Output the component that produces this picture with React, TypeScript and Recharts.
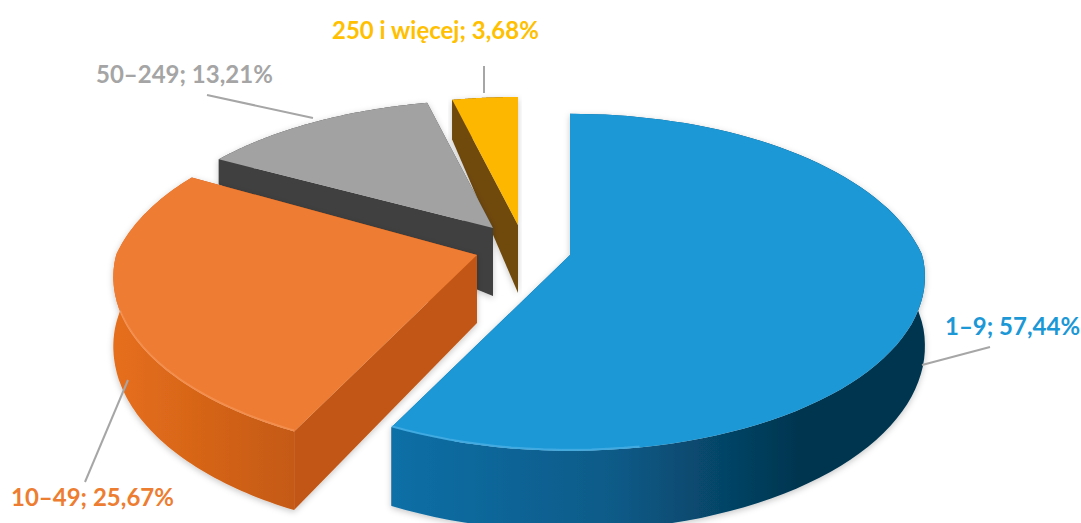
// Firmy wg liczby pracujących: exploded 3D-style pie, drawn through a custom Pie shape
import { PieChart, Pie } from 'recharts';

// Draw order is back to front, so the slices run counter-clockwise from the top
const categories = ['250 i więcej', '50–249', '10–49', '1–9'];
const shares = [3.68, 13.21, 25.67, 57.44];
const data = categories.map((name, i) => ({ name, value: shares[i] }));

// ── Look of each slice ───────────────────────────────────────────────────────
const LABEL_COLORS = ['#ffc000', '#a5a5a5', '#ed7d31', '#1c98d6'];
const TOP_COLORS = ['#fdb700', '#a2a2a2', '#ee7b32', '#1c98d6'];
const CUT_COLORS = ['#6f4a0f', '#404040', '#c25714', '#0b5f90'];
const WALL_COLORS = ['#6f4a0f', '#404040', 'url(#wallOrange)', 'url(#wallBlue)'];
const RIMS = ['none', 'none', '#f79a5e', '#58b6e8'];
const RIM_MAX_X = [0, 0, 300, 640];
const EXPLODE = [
  { dx: -52, dy: -30, back: 0.92, minDepth: 40, scale: 1 },
  { dx: -77, dy: -27, back: 0.92, minDepth: 25, scale: 1 },
  { dx: -93, dy: 0, back: 1, minDepth: 25, scale: 1.04 },
  { dx: 0, dy: 0, back: 1, minDepth: 25, scale: 1.015 },
];
const LABELS = [
  { x: 332, y: 39, line: [484, 66, 484, 93] },
  { x: 96, y: 83, line: [207, 95, 313, 118] },
  { x: 11, y: 506, line: [85, 482, 128, 380] },
  { x: 945, y: 335, line: [922, 365, 990, 347] },
];

const PERSPECTIVE_BACK = 0.2147;
const PERSPECTIVE_FRONT = 0.124;
const SQUASH = 169 / 347;

function project(a: number, rx: number, sy: number) {
  const u = Math.cos(a);
  const v = -Math.sin(a);
  const w = 1 - (v < 0 ? PERSPECTIVE_BACK : PERSPECTIVE_FRONT) * v;
  const ky = v < 0 ? sy : 1;
  return { x: (rx * u) / w, y: (rx * SQUASH * v * ky) / w, v };
}

function wallDepth(v: number, minDepth: number) {
  return v >= 0 ? 68 + 12 * v : Math.max(minDepth, 68 + 88 * v);
}

const toPath = (pts: { x: number; y: number }[]) =>
  'M' + pts.map((p) => `${p.x.toFixed(1)},${p.y.toFixed(1)}`).join('L') + 'Z';

// ── Slice: cut faces, wall and top face from the angles the Pie computed ─────
function Slice3D(props: any) {
  const { cx, cy, outerRadius, startAngle, endAngle, index } = props;
  const ex = EXPLODE[index];
  const ax = cx + ex.dx;
  const ay = cy + ex.dy;
  const a0 = (Math.min(startAngle, endAngle) * Math.PI) / 180;
  const a1 = (Math.max(startAngle, endAngle) * Math.PI) / 180;

  const arc: { x: number; y: number; v: number }[] = [];
  const steps = 90;
  for (let i = 0; i <= steps; i++) {
    const p = project(a0 + ((a1 - a0) * i) / steps, outerRadius * ex.scale, ex.back);
    arc.push({ x: ax + p.x, y: ay + p.y, v: p.v });
  }
  const down = (p: { x: number; y: number; v: number }) => ({
    x: p.x,
    y: p.y + wallDepth(p.v, ex.minDepth),
  });

  const apex = { x: ax, y: ay };
  const apexLow = { x: ax, y: ay + 68 };
  const wall = toPath([...arc, ...arc.map(down).reverse()]);
  const first = arc[0];
  const last = arc[arc.length - 1];
  const cutA = toPath([apex, first, down(first), apexLow]);
  const cutB = toPath([apex, last, down(last), apexLow]);
  const top = toPath([apex, ...arc]);
  const rim = arc.filter((p) => p.v > 0.3 && p.x < RIM_MAX_X[index]);

  return (
    <g filter="url(#soft)">
      <path d={cutA} fill={CUT_COLORS[index]} />
      <path d={cutB} fill={CUT_COLORS[index]} />
      <path d={wall} fill={WALL_COLORS[index]} />
      <path d={top} fill={TOP_COLORS[index]} />
      {RIMS[index] !== 'none' && rim.length > 1 && (
        <polyline
          points={rim.map((p) => `${p.x.toFixed(1)},${(p.y - 1).toFixed(1)}`).join(' ')}
          fill="none"
          stroke={RIMS[index]}
          strokeWidth={2}
          strokeOpacity={0.6}
        />
      )}
    </g>
  );
}

function SliceLabel(props: any) {
  const { index, name, value } = props;
  const l = LABELS[index];
  const text = `${name}; ${Number(value).toFixed(2).replace('.', ',')}%`;
  return (
    <g>
      <line x1={l.line[0]} y1={l.line[1]} x2={l.line[2]} y2={l.line[3]} stroke="#a6a6a6" strokeWidth={2} />
      <text x={l.x} y={l.y} fill={LABEL_COLORS[index]} fontFamily="Lato, sans-serif" fontWeight={700} fontSize={24}>
        {text}
      </text>
    </g>
  );
}

export default function App() {
  return (
    <div style={{ position: 'absolute', left: 0, top: 0, width: 1081, height: 523, background: '#fff' }}>
      <PieChart width={1081} height={523} margin={{ top: 0, right: 0, bottom: 0, left: 0 }}>
        <defs>
          <linearGradient id="wallBlue" gradientUnits="userSpaceOnUse" x1={395} y1={0} x2={800} y2={0}>
            <stop offset="0" stopColor="#0e6fa6" />
            <stop offset="0.55" stopColor="#0a5a87" />
            <stop offset="1" stopColor="#03354f" />
          </linearGradient>
          <linearGradient id="wallOrange" gradientUnits="userSpaceOnUse" x1={120} y1={0} x2={290} y2={0}>
            <stop offset="0" stopColor="#e56e1c" />
            <stop offset="1" stopColor="#c55a14" />
          </linearGradient>
          <filter id="soft" x="-5%" y="-5%" width="110%" height="110%">
            <feDropShadow dx={0} dy={2} stdDeviation={3} floodColor="#000" floodOpacity={0.22} />
            <feGaussianBlur stdDeviation={0.6} />
          </filter>
        </defs>
        <Pie
          data={data}
          dataKey="value"
          nameKey="name"
          cx={570}
          cy={255}
          innerRadius={0}
          outerRadius={347}
          startAngle={90}
          endAngle={450}
          paddingAngle={0}
          stroke="none"
          shape={Slice3D}
          label={SliceLabel}
          labelLine={false}
          isAnimationActive={false}
        />
      </PieChart>
    </div>
  );
}
